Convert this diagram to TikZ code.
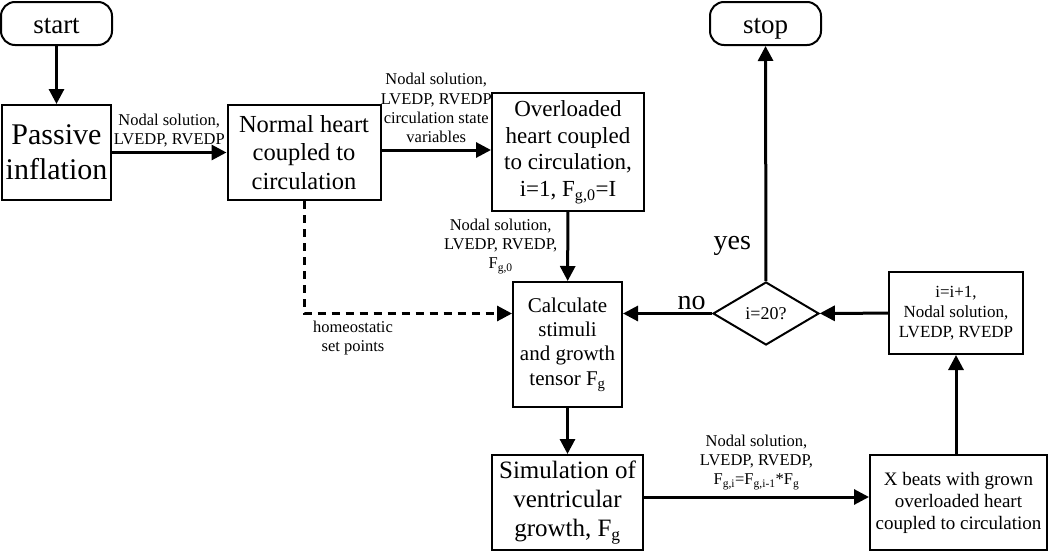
\documentclass[tikz,border=0pt]{standalone}
\usepackage{fontspec}
\setmainfont{Liberation Serif}
\usetikzlibrary{arrows.meta,shapes.geometric}
\newcommand{\fs}[1]{\fontsize{#1}{\fpeval{1.16*#1}}\selectfont}
\tikzset{
  blk/.style={draw,line width=2pt,align=center,inner sep=2pt},
  term/.style={blk,rounded corners=14pt,text height=19pt,text depth=0pt},
  flow/.style={line width=3pt,-{Triangle[length=15pt,width=15pt]}},
  lbl/.style={align=center,font=\fs{16.5},inner sep=1pt}
}
\begin{document}
\begin{tikzpicture}[x=1pt,y=-1pt]
      \useasboundingbox (0,0) rectangle (1050,552);
      \draw
        (56.5,23.5) node[term,minimum width=111pt,minimum height=43pt,font=\fs{27}] (start){start}
        (56.5,152.5) node[blk,minimum width=109pt,minimum height=95pt,font=\fs{30}] (passive){Passive\\inflation}
        (304,152.5) node[blk,minimum width=153pt,minimum height=95pt,font=\fs{24.5}] (normal){Normal heart\\coupled to\\circulation}
        (568,152) node[blk,minimum width=152pt,minimum height=118pt,font=\fs{23}] (over){Overloaded\\heart coupled\\to circulation,\\i=1, F\textsubscript{g,0}=I}
        (765.5,23.5) node[term,minimum width=111pt,minimum height=43pt,font=\fs{27}] (stop){stop}
        (567.5,344.5) node[blk,minimum width=109pt,minimum height=125pt,font=\fs{21}] (calc){Calculate\\stimuli\\and growth\\tensor F\textsubscript{g}}
        (766,313.5) node[draw,line width=2pt,diamond,minimum width=106pt,minimum height=63pt,inner sep=0pt,font=\fs{18}] (test){i=20?}
        (956,313) node[blk,minimum width=134pt,minimum height=82pt,font=\fs{17}] (incr){i=i+1,\\Nodal solution,\\LVEDP, RVEDP}
        (567.5,502.5) node[blk,minimum width=151pt,minimum height=95pt,font=\fs{25}] (sim){Simulation of\\ventricular\\growth, F\textsubscript{g}}
        (958.5,502.5) node[blk,minimum width=177pt,minimum height=95pt,font=\fs{19}] (beats){X beats with grown\\overloaded heart\\coupled to circulation};
      \begin{scope}[flow]
        \draw (start) to (passive);
        \draw (passive) to node[lbl,above=3pt] (l1){Nodal solution,\\LVEDP, RVEDP} (normal);
        \draw (normal.east|-0,150) to node[lbl,above=5pt] (l2){Nodal solution,\\LVEDP, RVEDP\\circulation state\\variables} (over.west|-0,150);
        \draw (over) to node[lbl,left=8pt] (l3){Nodal solution,\\LVEDP, RVEDP,\\F\textsubscript{g,0}} (calc);
        \draw[dashed,dash pattern=on 8pt off 6pt] (normal.south) |- node[lbl,anchor=north,xshift=49pt,yshift=-5pt,pos=0.5] (l4){homeostatic\\set points} (calc.west|-test);
        \draw (calc.south-|sim) to (sim);
        \draw (sim.east|-0,497) to node[lbl,above=5pt] (l5){Nodal solution,\\LVEDP, RVEDP,\\F\textsubscript{g,i}=F\textsubscript{g,i-1}*F\textsubscript{g}} (beats.west|-0,497);
        \draw (beats.north-|incr) to (incr);
        \draw (incr) to (test);
        \draw (test) to node[above=-1pt,pos=0.23,font=\fs{28}] (no){no} (calc.east|-test);
        \draw (test) to node[left=10pt,pos=0.15,font=\fs{28}] (yes){yes} (stop);
      \end{scope}
    \end{tikzpicture}
\end{document}
